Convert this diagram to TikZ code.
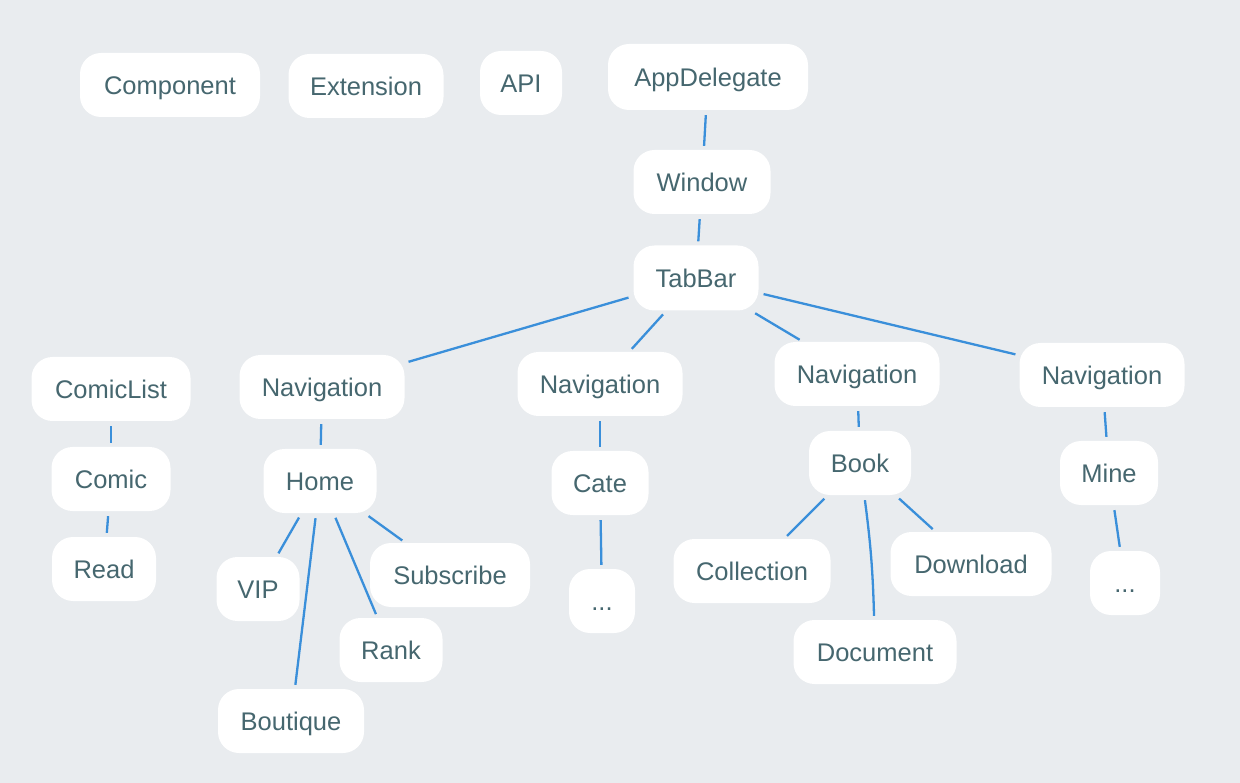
\documentclass[tikz,border=0pt]{standalone}
\usepackage{fontspec}
\setmainfont{Liberation Sans}
\definecolor{bg}{HTML}{E9ECEF}
\definecolor{txt}{HTML}{46676F}
\definecolor{lnk}{HTML}{3A8FDA}
\begin{document}
\begin{tikzpicture}[x=1pt,y=-1pt,
  box/.style={fill=white, rounded corners=21pt, minimum height=64pt, inner sep=0pt,
    text height=18.4pt, text depth=0pt,
    text=txt, font=\fontsize{25.5}{30}\selectfont},
  link/.style={draw=lnk, line width=2.3pt, shorten <=5pt, shorten >=4pt}]
\fill[bg] (0,0) rectangle (1240,783);
\useasboundingbox (0,0) rectangle (1240,783);
% top row
\node[box, minimum width=180pt] (component) at (170,85) {Component};
\node[box, minimum width=155pt] (extension) at (366,86) {Extension};
\node[box, minimum width=82pt]  (api) at (521,83) {API};
\node[box, minimum width=200pt, minimum height=66pt] (app) at (708,77) {AppDelegate};
\node[box, minimum width=137pt] (window) at (702,182) {Window};
\node[box, minimum width=125pt, minimum height=65pt] (tabbar) at (696,278) {TabBar};
% left column
\node[box, minimum width=159pt] (comiclist) at (111,389) {ComicList};
\node[box, minimum width=119pt] (comic) at (111,479) {Comic};
\node[box, minimum width=104pt] (read) at (104,569) {Read};
% navigations
\node[box, minimum width=165pt] (nav1) at (322,387) {Navigation};
\node[box, minimum width=165pt] (nav2) at (600,384) {Navigation};
\node[box, minimum width=165pt] (nav3) at (857,374) {Navigation};
\node[box, minimum width=165pt] (nav4) at (1102,375) {Navigation};
% second level
\node[box, minimum width=113pt] (home) at (320,481) {Home};
\node[box, minimum width=97pt]  (cate) at (600,483) {Cate};
\node[box, minimum width=102pt] (book) at (860,463) {Book};
\node[box, minimum width=98pt]  (mine) at (1109,473) {Mine};
% leaves
\node[box, minimum width=83pt]  (vip) at (258,589) {VIP};
\node[box, minimum width=160pt] (subscribe) at (450,575) {Subscribe};
\node[box, minimum width=103pt] (rank) at (391,650) {Rank};
\node[box, minimum width=146pt] (boutique) at (291,721) {Boutique};
\node[box, minimum width=66pt]  (catemore) at (602,601) {...};
\node[box, minimum width=157pt] (collection) at (752,571) {Collection};
\node[box, minimum width=161pt] (download) at (971,564) {Download};
\node[box, minimum width=163pt] (document) at (875,652) {Document};
\node[box, minimum width=70pt]  (minemore) at (1125,583) {...};
% connectors
\draw[link] (app) -- (window);
\draw[link] (window) -- (tabbar);
\draw[link] (tabbar) -- (nav1);
\draw[link] (tabbar) -- (nav2);
\draw[link] (tabbar) -- (nav3);
\draw[link] (tabbar) -- (nav4);
\draw[link] (comiclist) -- (comic);
\draw[link] (comic) -- (read);
\draw[link] (nav1) -- (home);
\draw[link] (nav2) -- (cate);
\draw[link] (nav3) -- (book);
\draw[link] (nav4) -- (mine);
\draw[link] (home) -- (vip);
\draw[link] (home) -- (boutique);
\draw[link] (home) -- (rank);
\draw[link] (home) -- (subscribe);
\draw[link] (cate) -- (catemore);
\draw[link] (book) -- (collection);
\draw[link] (book) to[bend left=3] (document);
\draw[link] (book) -- (download);
\draw[link] (mine) -- (minemore);
\end{tikzpicture}
\end{document}
